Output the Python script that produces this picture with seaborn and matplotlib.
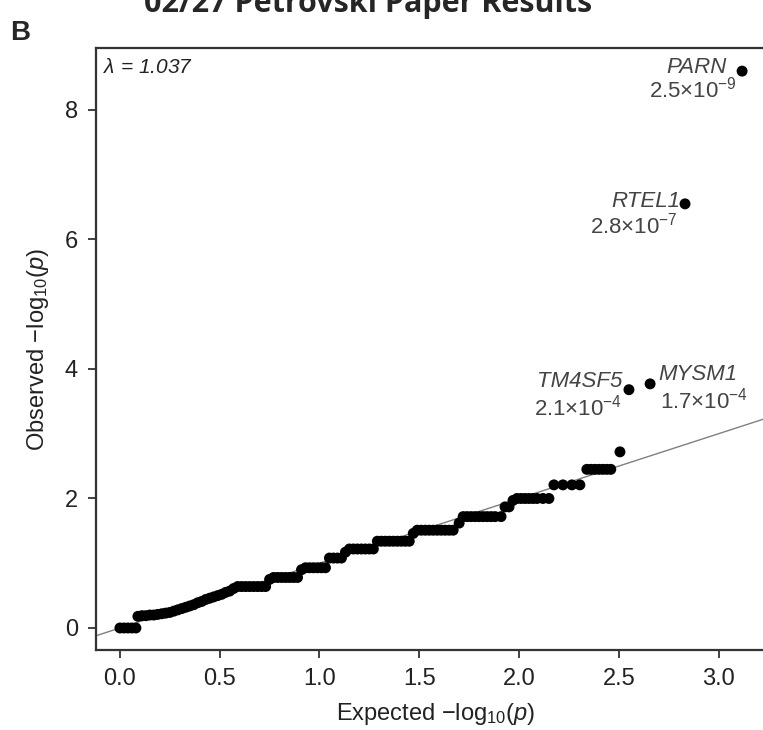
import matplotlib
matplotlib.use('Agg')
import matplotlib.pyplot as plt
import seaborn as sns
import pandas as pd

# QQ points: expected vs observed -log10(p)
expected = [
    0.00, 0.02, 0.04, 0.06, 0.08,
    0.09, 0.11, 0.13, 0.15, 0.17,
    0.19, 0.21, 0.23, 0.25, 0.27, 0.29, 0.31, 0.33, 0.35, 0.37,
    0.39, 0.41, 0.43, 0.45, 0.47, 0.49, 0.51, 0.53, 0.55,
    0.57, 0.59, 0.61, 0.63, 0.65, 0.67, 0.69, 0.71, 0.73,
    0.75, 0.77, 0.79, 0.81, 0.83, 0.85, 0.87, 0.89,
    0.91, 0.93, 0.95, 0.97, 0.99, 1.01, 1.03,
    1.05, 1.07, 1.09, 1.11,
    1.13, 1.15, 1.17, 1.19, 1.21, 1.23, 1.25, 1.27,
    1.29, 1.31, 1.33, 1.35, 1.37, 1.39, 1.41, 1.43, 1.45,
    1.47, 1.49, 1.51, 1.53, 1.55, 1.57, 1.59, 1.61, 1.63, 1.65, 1.67,
    1.70, 1.72, 1.74, 1.76, 1.78, 1.80, 1.82, 1.84, 1.86, 1.88, 1.91,
    1.93, 1.95,
    1.97, 1.99, 2.01, 2.03, 2.05, 2.07, 2.09, 2.12, 2.15,
    2.175, 2.22, 2.265, 2.305,
    2.34, 2.36, 2.38, 2.40, 2.42, 2.44, 2.46,
    2.506, 2.551, 2.657, 2.832, 3.118,
]
observed = [
    0.00, 0.00, 0.00, 0.00, 0.00,
    0.18, 0.19, 0.19, 0.20, 0.20,
    0.21, 0.22, 0.23, 0.24, 0.26, 0.28, 0.30, 0.32, 0.34, 0.36,
    0.39, 0.41, 0.44, 0.46, 0.48, 0.50, 0.52, 0.55, 0.57,
    0.61, 0.64, 0.64, 0.64, 0.64, 0.64, 0.64, 0.64, 0.64,
    0.75, 0.78, 0.78, 0.78, 0.78, 0.78, 0.78, 0.78,
    0.90, 0.93, 0.93, 0.93, 0.93, 0.93, 0.93,
    1.08, 1.08, 1.08, 1.08,
    1.17, 1.22, 1.22, 1.22, 1.22, 1.22, 1.22, 1.22,
    1.34, 1.34, 1.34, 1.34, 1.34, 1.34, 1.34, 1.34, 1.34,
    1.46, 1.51, 1.51, 1.51, 1.51, 1.51, 1.51, 1.51, 1.51, 1.51, 1.51,
    1.62, 1.72, 1.72, 1.72, 1.72, 1.72, 1.72, 1.72, 1.72, 1.72, 1.72,
    1.87, 1.87,
    1.97, 2.00, 2.00, 2.00, 2.00, 2.00, 2.00, 2.00, 2.00,
    2.21, 2.21, 2.21, 2.21,
    2.45, 2.45, 2.45, 2.45, 2.45, 2.45, 2.45,
    2.72, 3.68, 3.77, 6.55, 8.60,
]
assert len(expected) == len(observed)

genes = ['PARN', 'RTEL1', 'TM4SF5', 'MYSM1']
gene_x = [3.118, 2.832, 2.551, 2.657]
gene_y = [8.60, 6.55, 3.68, 3.77]
gene_p = ['2.5', '2.8', '2.1', '1.7']
gene_pexp = [-9, -7, -4, -4]
lam = 1.037

df = pd.DataFrame({'expected': expected, 'observed': observed})

sns.set_theme(style='ticks')
plt.rcParams['font.family'] = ['Liberation Sans', 'DejaVu Sans']
plt.rcParams['mathtext.fontset'] = 'custom'
plt.rcParams['mathtext.rm'] = 'Liberation Sans'
plt.rcParams['mathtext.it'] = 'Liberation Sans:italic'

fig = plt.figure(figsize=(7.63, 7.30), dpi=100)
ax = fig.add_axes([96 / 763, 80 / 730, 680 / 763, 602 / 730])

ax.axline((0, 0), slope=1, color='#808080', lw=1.0, zorder=1)
sns.scatterplot(data=df, x='expected', y='observed', ax=ax, color='black',
                s=62, edgecolor='none', linewidth=0, zorder=2)

ax.set_xlim(-0.12, 3.288)
ax.set_ylim(-0.34, 8.957)
ax.set_xticks([0, 0.5, 1.0, 1.5, 2.0, 2.5, 3.0])
ax.set_xticklabels(['0.0', '0.5', '1.0', '1.5', '2.0', '2.5', '3.0'])
ax.set_yticks([0, 2, 4, 6, 8])

for side in ['left', 'bottom', 'top']:
    ax.spines[side].set_color('#333333')
    ax.spines[side].set_linewidth(1.6)
ax.spines['right'].set_visible(False)
ax.tick_params(direction='out', length=6, width=1.3, color='#333333',
               labelsize=17, labelcolor='#222222', pad=7)

ax.set_xlabel(r'Expected $-$log$_{10}$($\it{p}$)', fontsize=17, color='#222222',
              labelpad=8)
ax.set_ylabel(r'Observed $-$log$_{10}$($\it{p}$)', fontsize=17, color='#222222',
              labelpad=10)

# gene labels: (dx, dy) offsets of name / p-value, alignment
label_pos = {
    'PARN':   ((-0.075, 0.06), (-0.025, -0.29), 'right'),
    'RTEL1':  ((-0.025, 0.03), (-0.035, -0.34), 'right'),
    'TM4SF5': ((-0.035, 0.12), (-0.035, -0.28), 'right'),
    'MYSM1':  ((0.04, 0.14), (0.05, -0.25), 'left'),
}
for g, gx, gy, pv, pe in zip(genes, gene_x, gene_y, gene_p, gene_pexp):
    (nx, ny), (px, py), ha = label_pos[g]
    ax.text(gx + nx, gy + ny, g, fontsize=16, style='italic', color='#444444',
            ha=ha, va='center')
    ax.text(gx + px, gy + py, r'%s$\times$10$^{%d}$' % (pv, pe), fontsize=16,
            color='#444444', ha=ha, va='center')

ax.text(-0.085, 8.66, r'$\lambda$ = %.3f' % lam, fontsize=15, style='italic',
        color='#222222', ha='left', va='center')

fig.text(0.013, 0.945, 'B', fontsize=20, fontweight='bold', ha='left', va='baseline')
fig.text(0.482, 0.984, '02/27 Petrovski Paper Results', fontsize=22,
         fontweight='bold', ha='center', va='baseline', family=['Open Sans', 'DejaVu Sans'])

fig.savefig('out.png', dpi=100)
